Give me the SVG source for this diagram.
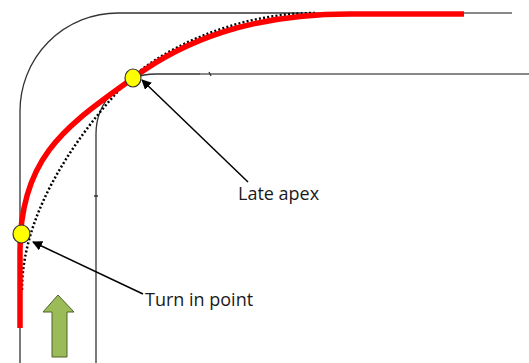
<svg xmlns="http://www.w3.org/2000/svg" width="529" height="363" viewBox="0 0 529 363">
<defs>
<style>
.track{fill:none;stroke:#333;stroke-width:1.3}
.trackg{fill:none;stroke:#888;stroke-width:1.8}
.lbl{font-family:"Open Sans","Liberation Sans",sans-serif;font-size:18px;fill:#1a1a1a}
.ptr{stroke:#000;stroke-width:1.5;fill:none}
.dot{fill:#ffff00;stroke:#333;stroke-width:1.2}
</style>
<marker id="ah" viewBox="0 0 10 10" refX="9" refY="5" markerWidth="10" markerHeight="10" orient="auto" markerUnits="userSpaceOnUse"><path d="M0,0 L10,5 L0,10 Z" fill="#000"/></marker>
</defs>
<rect width="529" height="363" fill="#fff"/>
<g id="track">
<path class="track" d="M20,363 L20,112 A98,98 0 0 1 118,13 L300,13"/>
<path class="trackg" d="M300,13 L512,13"/>
<path class="track" d="M96,363 L96,134 A60,60 0 0 1 156,74 L200,74"/>
<path class="trackg" d="M200,74 L529,74"/>
<path class="track" d="M209,72 L211,76 M94,196 L98,196"/>
</g>
<g id="lines">
<path d="M22,290 C22,217 70,144 120,89 C155,50.5 235,13 315,13" fill="none" stroke="#000" stroke-width="2.5" stroke-dasharray="2 2.2"/>
<path d="M20,328 L20,250 C20,152 73,122.4 133,78 C183,41 250,14 350,14 L464,14" fill="none" stroke="#ff0000" stroke-width="5.5"/>
</g>
<g id="connectors">
<line class="ptr" x1="248" y1="182" x2="142" y2="80" marker-end="url(#ah)"/>
<line class="ptr" x1="143" y1="294" x2="33" y2="242" marker-end="url(#ah)"/>
</g>
<g id="late-apex">
<ellipse class="dot" cx="133" cy="78" rx="8" ry="9"/>
<text class="lbl" x="238" y="200">Late apex</text>
</g>
<g id="turn-in">
<ellipse class="dot" cx="21.5" cy="234" rx="8.5" ry="9"/>
<text class="lbl" x="145" y="306">Turn in point</text>
</g>
<g id="direction">
<path d="M58,295 L74,312 L67,312 L67,357 L52,357 L52,312 L43,312 Z" fill="#9bbb59" stroke="#4f6228" stroke-width="1"/>
</g>
</svg>
